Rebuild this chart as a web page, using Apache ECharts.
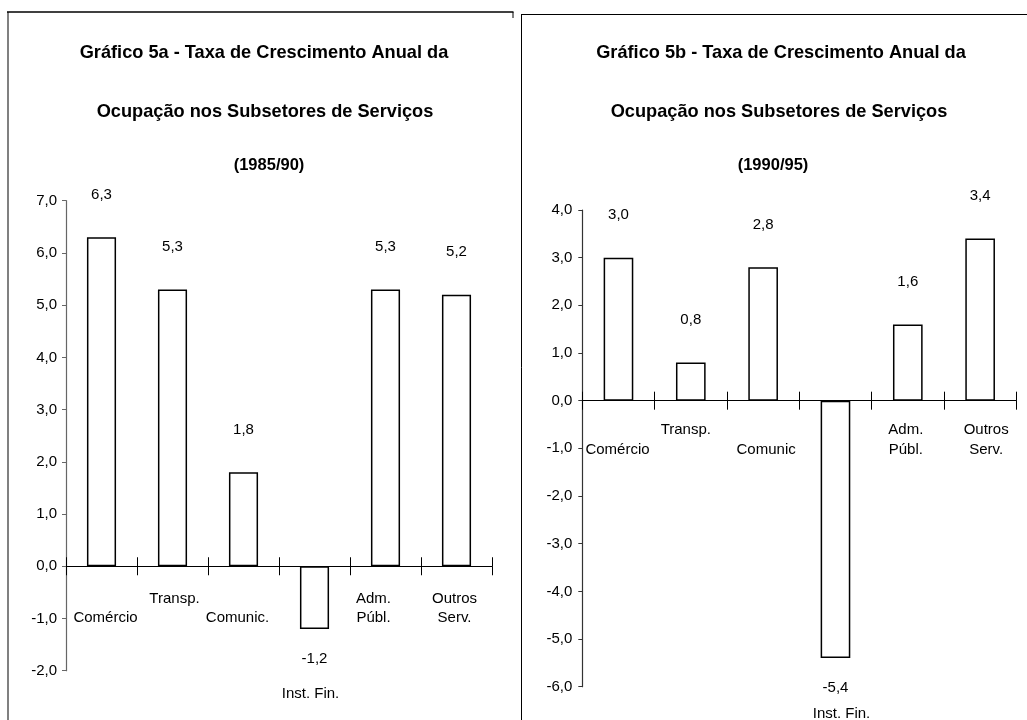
<!DOCTYPE html>
<html><head><meta charset="utf-8">
<script src="https://cdn.jsdelivr.net/npm/echarts@6/dist/echarts.min.js"></script>
<style>html,body{margin:0;padding:0;background:#fff}#c{width:1027px;height:720px}</style>
</head><body><div id="c"></div>
<script>
// ---- data ----
const titleA = ['Gráfico 5a - Taxa de Crescimento Anual da', 'Ocupação nos Subsetores de Serviços', '(1985/90)'];
const titleB = ['Gráfico 5b - Taxa de Crescimento Anual da', 'Ocupação nos Subsetores de Serviços', '(1990/95)'];
const categoriesA = ['Comércio', 'Transp.', 'Comunic.', 'Inst. Fin.', 'Adm.\nPúbl.', 'Outros\nServ.'];
const categoriesB = ['Comércio', 'Transp.', 'Comunic', 'Inst. Fin.', 'Adm.\nPúbl.', 'Outros\nServ.'];
const valuesA = [6.3, 5.3, 1.8, -1.2, 5.3, 5.2];
const valuesB = [3.0, 0.8, 2.8, -5.4, 1.6, 3.4];
const yRangeA = [-2, 7];
const yRangeB = [-6, 4];

// ---- styling / layout ----
const FONT = 'Liberation Sans, Arial, sans-serif';
const labelDropA = [19, 0, 19, 95, 0, 0];
const labelDropB = [20, 0, 20, 284, 0, 0];
const labelShiftA = [4, 2, -6, -4, -12, -2];
const labelShiftB = [-1, -5, 3, 6, -2, 6];
const fmt = v => Number(v).toFixed(1).replace('.', ',');

function catData(cats, drops, shifts) {
  return cats.map((c, i) => {
    const s = shifts[i];
    return { value: c, textStyle: { padding: [drops[i], s < 0 ? -2 * s : 0, 0, s > 0 ? 2 * s : 0] } };
  });
}
function barData(vals) {
  return vals.map(v => ({
    value: v,
    label: { position: v < 0 ? 'bottom' : 'top', distance: v < 0 ? 22 : 35 }
  }));
}
function titles(lines, centers) {
  const tops = [44, 103, 157];
  const sizes = [18.2, 18.2, 16.5];
  return lines.map((t, i) => ({
    text: t, left: centers[i], top: tops[i], textAlign: 'center', padding: 0,
    textStyle: { fontFamily: FONT, fontSize: sizes[i], fontWeight: 'bold', color: '#000' }
  }));
}
function mainX(gridIndex, cats, drops, shifts, lh) {
  return {
    type: 'category', gridIndex, position: 'bottom', data: catData(cats, drops, shifts),
    axisLine: { show: true, onZero: true, lineStyle: { color: '#000', width: 1.2 } },
    axisTick: { show: true, length: 9, inside: false, lineStyle: { color: '#000', width: 1 } },
    axisLabel: { interval: 0, margin: 8, color: '#000', fontFamily: FONT, fontSize: 15, lineHeight: lh, verticalAlign: 'top' },
    splitLine: { show: false }
  };
}
function tickX(gridIndex, cats) {
  return {
    type: 'category', gridIndex, position: 'top', data: cats.slice(), offset: 0,
    axisLine: { show: false, onZero: false },
    axisTick: { show: true, length: 9, inside: false, lineStyle: { color: '#000', width: 1 } },
    axisLabel: { show: false }, splitLine: { show: false }
  };
}
function valY(gridIndex, range, color, margin) {
  return {
    type: 'value', gridIndex, min: range[0], max: range[1], interval: 1,
    axisLine: { show: true, lineStyle: { color, width: 1.2 } },
    axisTick: { show: true, length: 4, lineStyle: { color, width: 1 } },
    axisLabel: { formatter: fmt, margin, color: '#000', fontFamily: FONT, fontSize: 15, padding: [0, 0, 7, 0] },
    splitLine: { show: false }
  };
}
function bars(xi, yi, vals) {
  return {
    type: 'bar', xAxisIndex: xi, yAxisIndex: yi, data: barData(vals), barWidth: '41%',
    itemStyle: { color: '#fff', borderColor: '#000', borderWidth: 1.5 },
    label: { show: true, formatter: p => fmt(p.value), color: '#000', fontFamily: FONT, fontSize: 15 },
    emphasis: { disabled: true }, animation: false
  };
}

const chart = echarts.init(document.getElementById('c'), null, { renderer: 'canvas' });
chart.setOption({
  backgroundColor: '#fff',
  animation: false,
  title: [...titles(titleA, [264, 265, 269]), ...titles(titleB, [781, 779, 773])],
  grid: [
    { left: 66, top: 200.7, width: 426, height: 470, outerBoundsMode: 'none', containLabel: false },
    { left: 582.3, top: 210, width: 434, height: 476.7, outerBoundsMode: 'none', containLabel: false }
  ],
  xAxis: [
    mainX(0, categoriesA, labelDropA, labelShiftA, 19),
    tickX(0, categoriesA),
    mainX(1, categoriesB, labelDropB, labelShiftB, 20),
    tickX(1, categoriesB)
  ],
  yAxis: [
    valY(0, yRangeA, '#666', 9),
    valY(1, yRangeB, '#333', 10)
  ],
  series: [bars(0, 0, valuesA), bars(2, 1, valuesB)],
  graphic: [
    { type: 'line', shape: { x1: 8, y1: 12, x2: 8, y2: 720 }, style: { stroke: '#808080', lineWidth: 2 } },
    { type: 'line', shape: { x1: 7, y1: 12, x2: 513.5, y2: 12 }, style: { stroke: '#000', lineWidth: 1.5 } },
    { type: 'line', shape: { x1: 513, y1: 12, x2: 513, y2: 18 }, style: { stroke: '#000', lineWidth: 1 } },
    { type: 'line', shape: { x1: 521.5, y1: 14.5, x2: 521.5, y2: 720 }, style: { stroke: '#000', lineWidth: 1 } },
    { type: 'line', shape: { x1: 521, y1: 14.5, x2: 1027, y2: 14.5 }, style: { stroke: '#000', lineWidth: 1 } }
  ]
});

// place category labels just under the zero line and the upper tick halves on it
function px(yi, v) { return chart.convertToPixel({ yAxisIndex: yi }, v); }
const zA = px(0, 0), botA = px(0, yRangeA[0]), topA = px(0, yRangeA[1]);
const zB = px(1, 0), botB = px(1, yRangeB[0]), topB = px(1, yRangeB[1]);
chart.setOption({
  xAxis: [
    { axisLabel: { margin: zA + 23 - botA } },
    { offset: -(zA - topA) },
    { axisLabel: { margin: zB + 19 - botB } },
    { offset: -(zB - topB) }
  ]
});
</script>
</body></html>
